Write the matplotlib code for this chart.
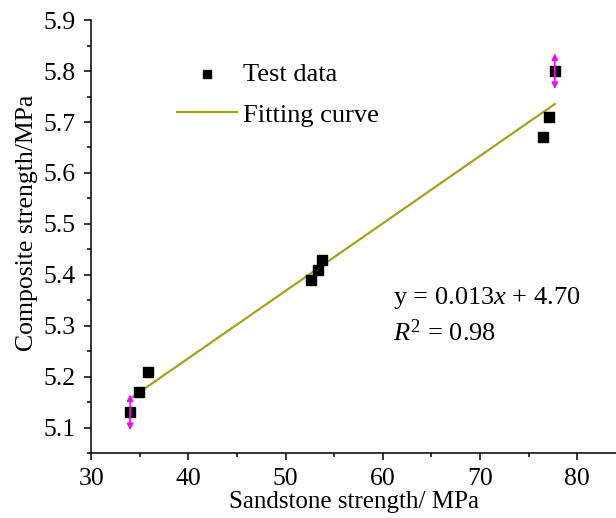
import numpy as np
import matplotlib
matplotlib.use('Agg')
import matplotlib.pyplot as plt
from matplotlib.ticker import MultipleLocator

plt.rcParams['font.family'] = ['Liberation Serif', 'DejaVu Serif']
plt.rcParams['mathtext.fontset'] = 'custom'
plt.rcParams['mathtext.rm'] = 'Liberation Serif'
plt.rcParams['mathtext.it'] = 'Liberation Serif:italic'

# test data
sandstone = [34.0, 34.9, 35.8, 52.6, 53.3, 53.7, 76.5, 77.1, 77.7]
composite = [5.13, 5.17, 5.21, 5.39, 5.41, 5.43, 5.67, 5.71, 5.80]
arrow_idx = [0, 8]
arrow_half = 0.035

k, b = np.polyfit(sandstone, composite, 1)
xfit = np.array([min(sandstone), max(sandstone)])
yfit = k * xfit + b

fig = plt.figure(figsize=(6.16, 5.18), dpi=100)
ax = fig.add_axes([0.148, 0.1255, 0.852, 0.8355])

ax.scatter(sandstone, composite, marker='s', s=55, color='black', zorder=3,
           label='Test data')
ax.plot(xfit, yfit, color='#a8a01a', lw=1.6, label='Fitting curve', zorder=2)

for i in arrow_idx:
    ax.annotate('', xy=(sandstone[i], composite[i] + arrow_half),
                xytext=(sandstone[i], composite[i] - arrow_half),
                arrowprops=dict(arrowstyle='<|-|>', color='#ff00ff', lw=1.2,
                                mutation_scale=9, shrinkA=0, shrinkB=0),
                zorder=4)

ax.set_xlim(30, 84)
ax.set_ylim(5.05, 5.9)
ax.xaxis.set_major_locator(MultipleLocator(10))
ax.xaxis.set_minor_locator(MultipleLocator(5))
ax.yaxis.set_major_locator(MultipleLocator(0.1))
ax.yaxis.set_minor_locator(MultipleLocator(0.05))
ax.tick_params(which='major', direction='out', length=5, width=1.1,
               labelsize=18.5)
ax.tick_params(which='minor', direction='out', length=3, width=1.1)
ax.tick_params(axis='x', which='major', pad=6)
ax.tick_params(axis='y', which='major', pad=6)
ax.spines['top'].set_visible(False)
ax.spines['right'].set_visible(False)
for s in ['left', 'bottom']:
    ax.spines[s].set_linewidth(1.1)

ax.set_xlabel('Sandstone strength/ MPa', fontsize=18)
ax.set_ylabel('Composite strength/MPa', fontsize=18.5, va='center')
ax.xaxis.set_label_coords(0.5, -0.0878)
ax.yaxis.set_label_coords(-0.122, 0.533)

ax.legend(loc='upper left', bbox_to_anchor=(0.287, 0.880),
          bbox_transform=fig.transFigure, frameon=False, borderpad=0,
          borderaxespad=0, fontsize=19, handlelength=2.27,
          handletextpad=0.23, labelspacing=0.66, markerscale=0.85)

fig.text(393 / 616, 1 - 298 / 518, 'y = 0.013$\\it{x}$ + 4.70', fontsize=19,
         va='center', ha='left')
fig.text(393 / 616, 1 - 333 / 518, '$\\it{R}^2$ = 0.98', fontsize=19,
         va='center', ha='left')

fig.savefig('out.png', dpi=100)
